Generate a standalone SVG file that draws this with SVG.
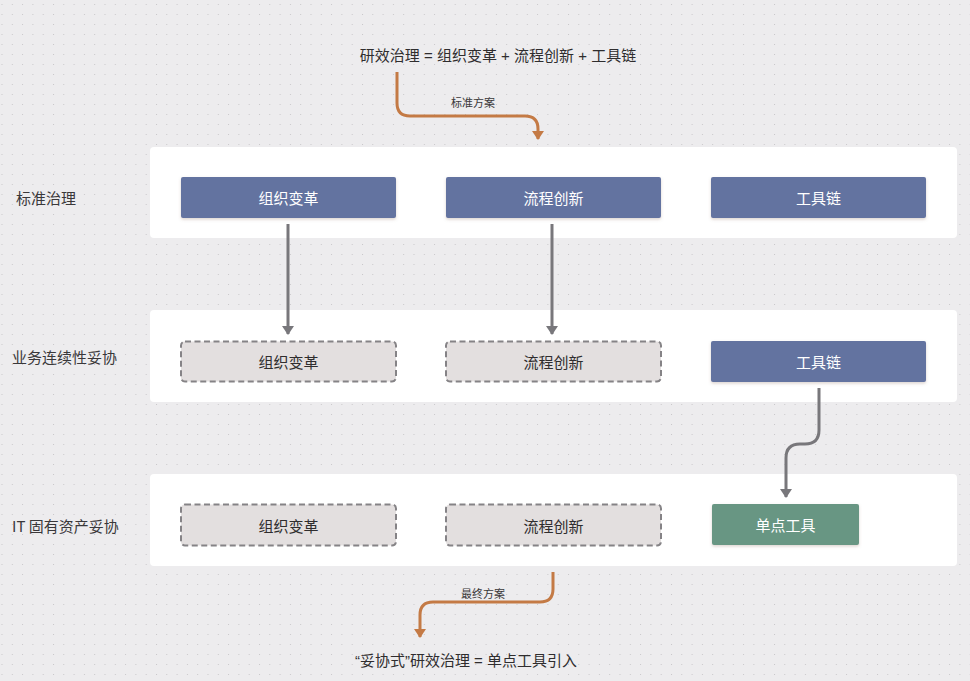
<svg xmlns="http://www.w3.org/2000/svg" width="970" height="681" viewBox="0 0 970 681">
<defs>
<pattern id="grid" x="1.5" y="4" width="10.3" height="10" patternUnits="userSpaceOnUse">
<rect x="0" y="0" width="1" height="1" fill="#c9c7ca"/>
</pattern>
<filter id="sh" x="-5%" y="-20%" width="110%" height="150%">
<feDropShadow dx="0" dy="1.5" stdDeviation="1.5" flood-color="#8a7060" flood-opacity="0.3"/>
</filter>
<marker id="ag" viewBox="0 0 10 12" refX="8" refY="6" markerWidth="10" markerHeight="12" markerUnits="userSpaceOnUse" orient="auto">
<path d="M0,0 L9,6 L0,12 Z" fill="#78777b"/>
</marker>
<marker id="ao" viewBox="0 0 10 12" refX="8" refY="6" markerWidth="10" markerHeight="12" markerUnits="userSpaceOnUse" orient="auto">
<path d="M0,0 L9,6 L0,12 Z" fill="#c47a45"/>
</marker>
</defs>
<style>
text{font-family:"Noto Sans CJK SC","Liberation Sans",sans-serif;}
.band{fill:#ffffff;}
.blue{fill:#6473a0;filter:url(#sh);}
.green{fill:#679683;filter:url(#sh);}
.dash{fill:#e3dfdf;stroke:#858386;stroke-width:2;stroke-dasharray:6 3.5;}
.nt{font-size:15px;fill:#ffffff;text-anchor:middle;dominant-baseline:central;}
.dt{font-size:15px;fill:#2f2d2e;text-anchor:middle;dominant-baseline:central;}
.lbl{font-size:15px;fill:#3a383a;dominant-baseline:central;}
.small{font-size:11px;fill:#3a383a;text-anchor:middle;dominant-baseline:central;}
.title{font-size:15px;fill:#2f2d2e;text-anchor:middle;dominant-baseline:central;font-family:"Liberation Sans","Noto Sans CJK SC",sans-serif;}
.cg{fill:none;stroke:#78777b;stroke-width:3;marker-end:url(#ag);}
.co{fill:none;stroke:#c47a45;stroke-width:3;marker-end:url(#ao);}
</style>
<rect width="970" height="681" fill="#edecee"/>
<rect width="970" height="681" fill="url(#grid)"/>
<g id="bands">
<rect class="band" x="150" y="147" width="807" height="91" rx="4"/>
<rect class="band" x="150" y="310" width="807" height="92" rx="4"/>
<rect class="band" x="150" y="474" width="807" height="92" rx="4"/>
</g>
<g id="labels">
<text class="title" x="498" y="55">研效治理 = 组织变革 + 流程创新 + 工具链</text>
<text class="lbl" x="16" y="197">标准治理</text>
<text class="lbl" x="12" y="356">业务连续性妥协</text>
<text class="lbl" x="12" y="525">IT 固有资产妥协</text>
<text class="title" x="466" y="660">“妥协式”研效治理 = 单点工具引入</text>
</g>
<g id="connectors">
<path class="cg" d="M288,224 L288,334"/>
<path class="cg" d="M552,224 L552,334"/>
<path class="cg" d="M819,388 L819,430 Q819,444 805,444 L800,444 Q786,444 786,458 L786,497"/>
<path class="co" d="M397,72 L397,103 Q397,116 410,116 L525,116 Q538,116 538,129 L538,139"/>
<path class="co" d="M553,572 L553,589 Q553,602 540,602 L433,602 Q420,602 420,615 L420,637"/>
<text class="small" x="473" y="102">标准方案</text>
<text class="small" x="483" y="593">最终方案</text>
</g>
<g id="n1"><rect class="blue" x="181" y="177" width="215" height="41" rx="2"/><text class="nt" x="288.5" y="197.5">组织变革</text></g>
<g id="n2"><rect class="blue" x="446" y="177" width="215" height="41" rx="2"/><text class="nt" x="553.5" y="197.5">流程创新</text></g>
<g id="n3"><rect class="blue" x="711" y="177" width="215" height="41" rx="2"/><text class="nt" x="818.5" y="197.5">工具链</text></g>
<g id="n4"><rect class="dash" x="181" y="341.5" width="215" height="40" rx="4"/><text class="dt" x="288.5" y="361.5">组织变革</text></g>
<g id="n5"><rect class="dash" x="446" y="341.5" width="215" height="40" rx="4"/><text class="dt" x="553.5" y="361.5">流程创新</text></g>
<g id="n6"><rect class="blue" x="711" y="341" width="215" height="41" rx="2"/><text class="nt" x="818.5" y="361.5">工具链</text></g>
<g id="n7"><rect class="dash" x="181" y="504.5" width="215" height="41" rx="4"/><text class="dt" x="288.5" y="525">组织变革</text></g>
<g id="n8"><rect class="dash" x="446" y="504.5" width="215" height="41" rx="4"/><text class="dt" x="553.5" y="525">流程创新</text></g>
<g id="n9"><rect class="green" x="712" y="504" width="147" height="41" rx="2"/><text class="nt" x="785.5" y="524.5">单点工具</text></g>
</svg>
